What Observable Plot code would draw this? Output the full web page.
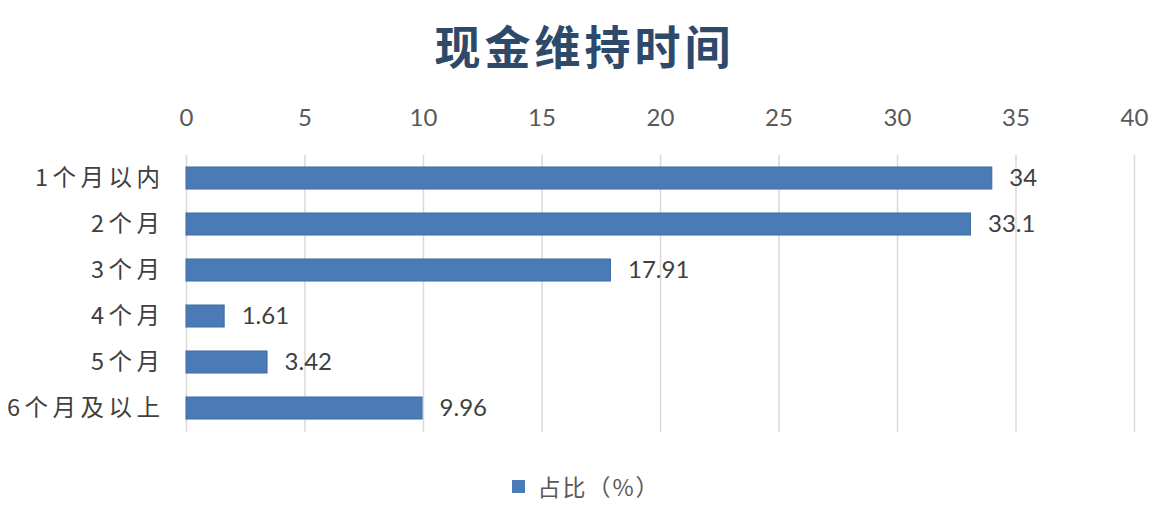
<!DOCTYPE html>
<html>
<head>
<meta charset="utf-8">
<script src="https://cdn.jsdelivr.net/npm/d3@7"></script>
<script src="https://cdn.jsdelivr.net/npm/@observablehq/plot@0.6"></script>
<style>
  html, body { margin: 0; padding: 0; background: #ffffff; }
  body { width: 1169px; height: 512px; overflow: hidden; font-family: Lato, "Noto Sans CJK SC", sans-serif; }
  #title { height: 90px; line-height: 88px; text-align: center; font-size: 46px; font-weight: bold; color: #2e4a6a; font-family: "Noto Sans CJK SC", sans-serif; letter-spacing: 4px; padding-left: 0px; box-sizing: border-box; }
  #legend { height: 52px; display: flex; justify-content: center; align-items: center; font-size: 23px; color: #595959; padding-left: 4px; box-sizing: border-box; }
  #legend .sw { width: 13px; height: 13px; background: #4a7bb7; margin-right: 12px; }
  #legend span { font-family: "Noto Sans CJK SC", sans-serif; letter-spacing: 2px; }
  g[aria-label="y-axis tick label"] text { letter-spacing: 4.5px; }
</style>
</head>
<body>
<div id="title">现金维持时间</div>
<div id="chart"></div>
<div id="legend"><div class="sw"></div><span>占比（%）</span></div>
<script>
const categories = ["1个月以内", "2个月", "3个月", "4个月", "5个月", "6个月及以上"];
const values = [34, 33.1, 17.91, 1.61, 3.42, 9.96];
const valueLabels = ["34", "33.1", "17.91", "1.61", "3.42", "9.96"];
const xTicks = [0, 5, 10, 15, 20, 25, 30, 35, 40];

const data = categories.map((c, i) => ({category: c, value: values[i], label: valueLabels[i]}));

const chart = Plot.plot({
  width: 1169,
  height: 370,
  marginTop: 65,
  marginBottom: 28,
  marginLeft: 186,
  marginRight: 35,
  style: { fontFamily: "Lato, 'Noto Sans CJK SC', sans-serif", fontSize: "24px", color: "#404040", background: "#ffffff" },
  x: { domain: [0, 40], ticks: xTicks, label: null },
  y: { domain: categories, paddingInner: 0.52, paddingOuter: 0.26, label: null },
  marks: [
    Plot.gridX(xTicks, { stroke: "#d9d9d9", strokeOpacity: 1, strokeWidth: 1.5 }),
    Plot.axisX(xTicks, { anchor: "top", tickSize: 0, tickPadding: 30, fontSize: 24, color: "#595959", label: null }),
    Plot.axisY({ anchor: "left", tickSize: 0, tickPadding: 22, fontSize: 23.5, color: "#404040", label: null, fontFamily: "'Noto Sans CJK SC', sans-serif" }),
    Plot.barX(data, { x: "value", y: "category", fill: "#4a7bb7", stroke: "#3d6aa3", strokeWidth: 1 }),
    Plot.text(data, { x: "value", y: "category", text: "label", textAnchor: "start", dx: 17, fontSize: 24, fill: "#404040" })
  ]
});
document.getElementById("chart").appendChild(chart);
</script>
</body>
</html>
